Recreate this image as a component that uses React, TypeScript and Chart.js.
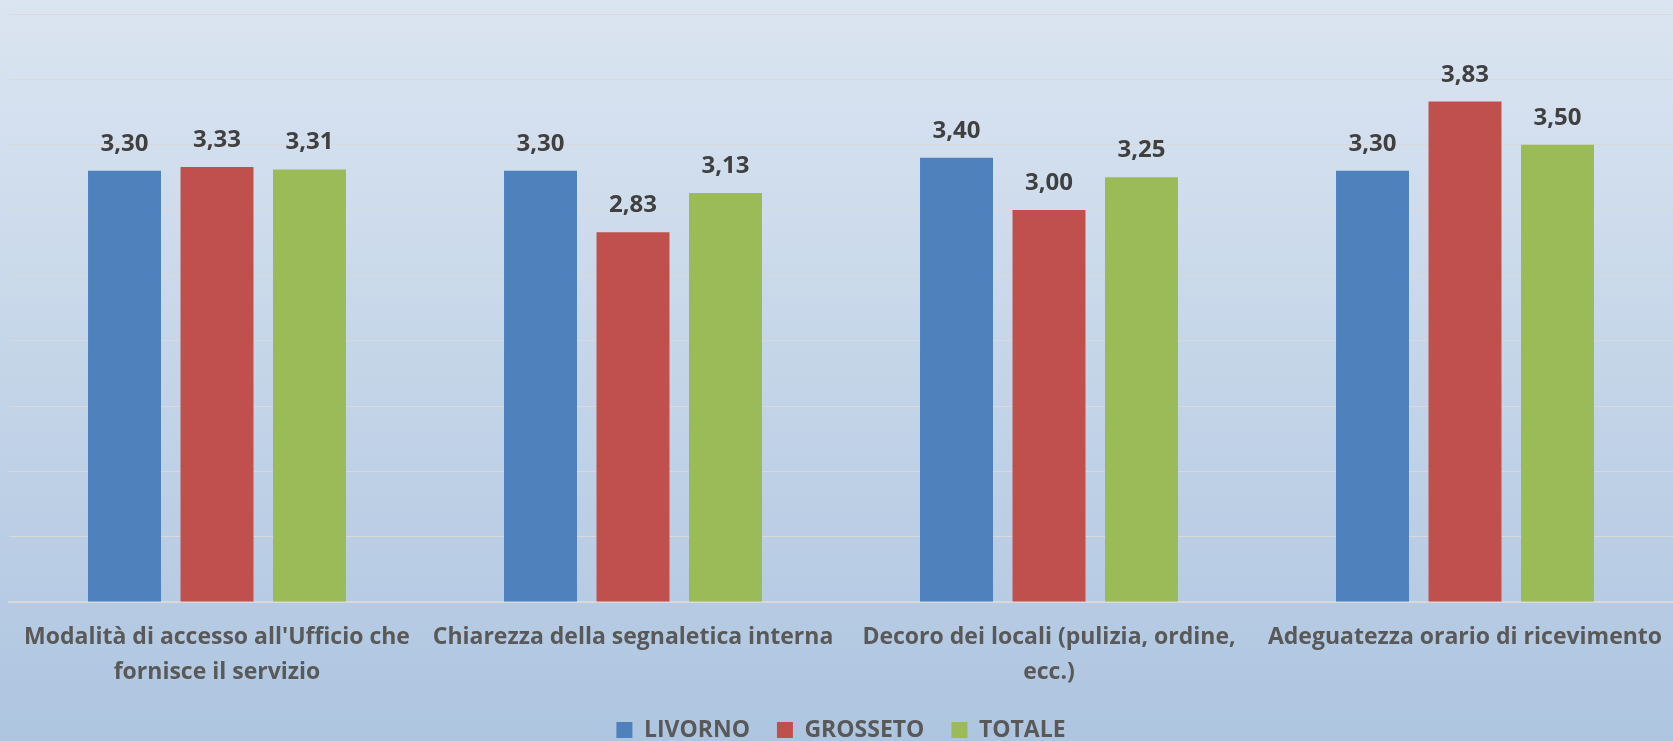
import React, { useEffect, useRef } from "react";
import { Chart, registerables } from "chart.js";

Chart.register(...registerables);

const categories: (string | string[])[] = [
  ["Modalità di accesso all'Ufficio che", "fornisce il servizio"],
  "Chiarezza della segnaletica interna",
  ["Decoro dei locali (pulizia, ordine,", "ecc.)"],
  "Adeguatezza orario di ricevimento",
];
const seriesNames = ["LIVORNO", "GROSSETO", "TOTALE"];
const livorno = [3.3, 3.3, 3.4, 3.3];
const grosseto = [3.33, 2.83, 3.0, 3.83];
const totale = [3.31, 3.13, 3.25, 3.5];
const seriesColors = ["#4F81BD", "#C0504D", "#9BBB59"];
const yMin = 0;
const yMax = 4.5;
const yStep = 0.5;

const FONT = "'Open Sans'";
const FX = 23; // axis labels
const FL = 23; // legend
const FV = 24; // value labels

const bgPlugin = {
  id: "bgGradient",
  beforeDraw(chart: any) {
    const { ctx, width, height } = chart;
    ctx.save();
    const g = ctx.createLinearGradient(0, 0, 0, height);
    g.addColorStop(0, "#dbe5f1");
    g.addColorStop(1, "#aec5e0");
    ctx.fillStyle = g;
    ctx.fillRect(0, 0, width, height);
    ctx.restore();
  },
};

const valueLabels = {
  id: "valueLabels",
  afterDatasetsDraw(chart: any) {
    const { ctx } = chart;
    ctx.save();
    ctx.font = `bold ${FV}px ${FONT}`;
    ctx.fillStyle = "#404040";
    ctx.textAlign = "center";
    ctx.textBaseline = "alphabetic";
    chart.data.datasets.forEach((ds: any, i: number) => {
      const meta = chart.getDatasetMeta(i);
      meta.data.forEach((el: any, j: number) => {
        const v = ds.data[j] as number;
        ctx.fillText(v.toFixed(2).replace(".", ","), el.x, el.y - 20);
      });
    });
    ctx.restore();
  },
};

export default function App() {
  const ref = useRef<HTMLCanvasElement | null>(null);
  useEffect(() => {
    if (!ref.current) return;
    const legPad = 27;
    const legendH = FL + legPad + 10;
    const padBottom = 1 - FL / 2;
    const legendTop = 741 - padBottom - legendH;
    const axisH = legendTop - 602;
    const chart = new Chart(ref.current, {
      type: "bar",
      data: {
        labels: categories,
        datasets: [livorno, grosseto, totale].map((d, i) => ({
          label: seriesNames[i],
          data: d,
          backgroundColor: seriesColors[i],
          borderWidth: 0,
          categoryPercentage: 0.667,
          barPercentage: 0.789,
        })),
      },
      options: {
        responsive: true,
        maintainAspectRatio: false,
        animation: false,
        layout: { padding: { top: 14, left: 9, right: 0, bottom: padBottom } },
        plugins: {
          tooltip: { enabled: false },
          legend: {
            position: "bottom",
            labels: {
              boxWidth: 16,
              boxHeight: 16,
              padding: legPad,
              color: "#595959",
              font: { family: FONT, size: FL, weight: "bold" },
            },
          },
        },
        scales: {
          x: {
            grid: { display: false, drawTicks: false },
            border: { display: true, color: "#d9d9d9", width: 2 },
            ticks: {
              autoSkip: false,
              maxRotation: 0,
              minRotation: 0,
              padding: 18,
              color: "#595959",
              font: { family: FONT, size: FX, weight: "bold", lineHeight: 35 / FX },
            },
            afterFit: (scale: any) => {
              scale.height = axisH;
              scale.paddingLeft = 0;
              scale.paddingRight = 0;
            },
          },
          y: {
            min: yMin,
            max: yMax,
            grid: { color: "#d9d9d9", lineWidth: 1, drawTicks: false },
            border: { display: false },
            ticks: { display: false, stepSize: yStep },
            afterFit: (scale: any) => {
              scale.width = 0;
              scale.paddingTop = 0;
              scale.paddingBottom = 0;
            },
          },
        },
      },
      plugins: [bgPlugin, valueLabels],
    });
    return () => chart.destroy();
  }, []);
  return (
    <div style={{ position: "absolute", left: 0, top: 0, width: 1673, height: 741 }}>
      <canvas ref={ref} />
    </div>
  );
}
